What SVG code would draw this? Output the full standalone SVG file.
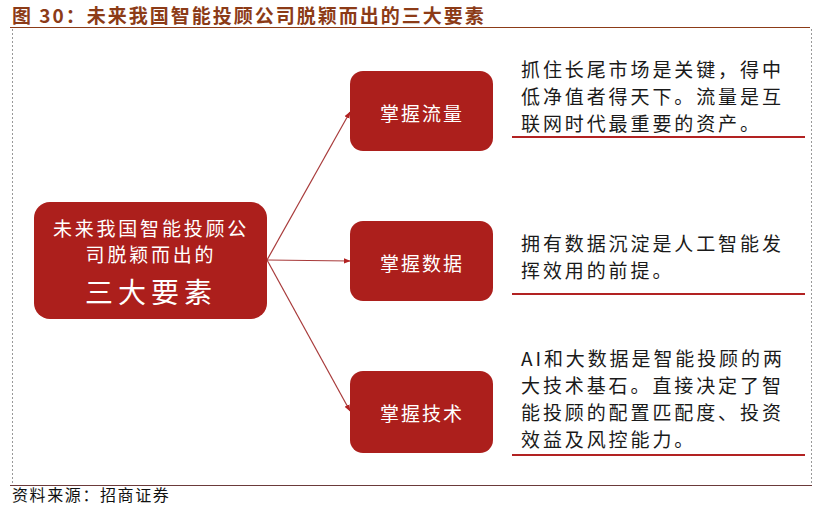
<svg xmlns="http://www.w3.org/2000/svg" width="820" height="514" viewBox="0 0 820 514">
<style>
.cjk{font-family:"Noto Sans CJK SC","Noto Sans CJK JP",sans-serif;}
.box{fill:#AC1F1C;}
.wt{fill:#FFFFFF;}
.desc{fill:#1a1a1a;font-size:19px;letter-spacing:2.9px;}
.ul{stroke:#B22222;stroke-width:2;}
.conn{stroke:#A83A3A;stroke-width:1.2;fill:none;}
</style>
<defs>
<marker id="ah" viewBox="0 0 10 10" refX="9" refY="5" markerWidth="7" markerHeight="7" orient="auto" markerUnits="userSpaceOnUse">
<path d="M0,1 L10,5 L0,9 Z" fill="#B22222"/>
</marker>
</defs>
<rect width="820" height="514" fill="#FFFFFF"/>
<g id="title">
<text x="12" y="23" class="cjk" font-size="19" font-weight="bold" fill="#8C3B17" letter-spacing="2">图 30：未来我国智能投顾公司脱颖而出的三大要素</text>
<line x1="10" y1="27.5" x2="810" y2="27.5" stroke="#8C3B17" stroke-width="1.2"/>
</g>
<g id="frame">
<line x1="12.5" y1="29" x2="12.5" y2="485" stroke="#999" stroke-width="1" stroke-dasharray="2,2"/>
<line x1="811.5" y1="29" x2="811.5" y2="485" stroke="#999" stroke-width="1" stroke-dasharray="2,2"/>
<line x1="10" y1="485.5" x2="812" y2="485.5" stroke="#6B3A3A" stroke-width="1.2"/>
</g>
<g id="connectors">
<line class="conn" x1="267" y1="260" x2="350" y2="112" marker-end="url(#ah)"/>
<line class="conn" x1="267" y1="260" x2="350" y2="261" marker-end="url(#ah)"/>
<line class="conn" x1="267" y1="260" x2="350" y2="411" marker-end="url(#ah)"/>
</g>
<g id="main">
<rect class="box" x="34" y="202" width="233" height="117" rx="16"/>
<text x="151" y="236" text-anchor="middle" class="cjk wt" font-size="19" letter-spacing="2.8">未来我国智能投顾公</text>
<text x="151" y="262" text-anchor="middle" class="cjk wt" font-size="19" letter-spacing="2.8">司脱颖而出的</text>
<text x="151" y="303" text-anchor="middle" class="cjk wt" font-size="28" letter-spacing="5">三大要素</text>
</g>
<g id="node1">
<rect class="box" x="350" y="71" width="143" height="80" rx="13"/>
<text x="422" y="121" text-anchor="middle" class="cjk wt" font-size="19" letter-spacing="2">掌握流量</text>
</g>
<g id="node2">
<rect class="box" x="350" y="221" width="143" height="80" rx="13"/>
<text x="422" y="271" text-anchor="middle" class="cjk wt" font-size="19" letter-spacing="2">掌握数据</text>
</g>
<g id="node3">
<rect class="box" x="350" y="371" width="143" height="82" rx="13"/>
<text x="422" y="421" text-anchor="middle" class="cjk wt" font-size="19" letter-spacing="2">掌握技术</text>
</g>
<g id="desc1">
<text class="cjk desc" x="521" y="77">抓住长尾市场是关键，得中</text>
<text class="cjk desc" x="521" y="104">低净值者得天下。流量是互</text>
<text class="cjk desc" x="521" y="131">联网时代最重要的资产。</text>
<line class="ul" x1="512" y1="137" x2="805" y2="137"/>
</g>
<g id="desc2">
<text class="cjk desc" x="521" y="251">拥有数据沉淀是人工智能发</text>
<text class="cjk desc" x="521" y="278">挥效用的前提。</text>
<line class="ul" x1="512" y1="294" x2="805" y2="294"/>
</g>
<g id="desc3">
<text class="cjk desc" x="521" y="366">AI和大数据是智能投顾的两</text>
<text class="cjk desc" x="521" y="393">大技术基石。直接决定了智</text>
<text class="cjk desc" x="521" y="420">能投顾的配置匹配度、投资</text>
<text class="cjk desc" x="521" y="447">效益及风控能力。</text>
<line class="ul" x1="512" y1="455" x2="805" y2="455"/>
</g>
<g id="source">
<text x="12" y="501" class="cjk" font-size="16" fill="#111" letter-spacing="1.6">资料来源：招商证券</text>
</g>
</svg>
